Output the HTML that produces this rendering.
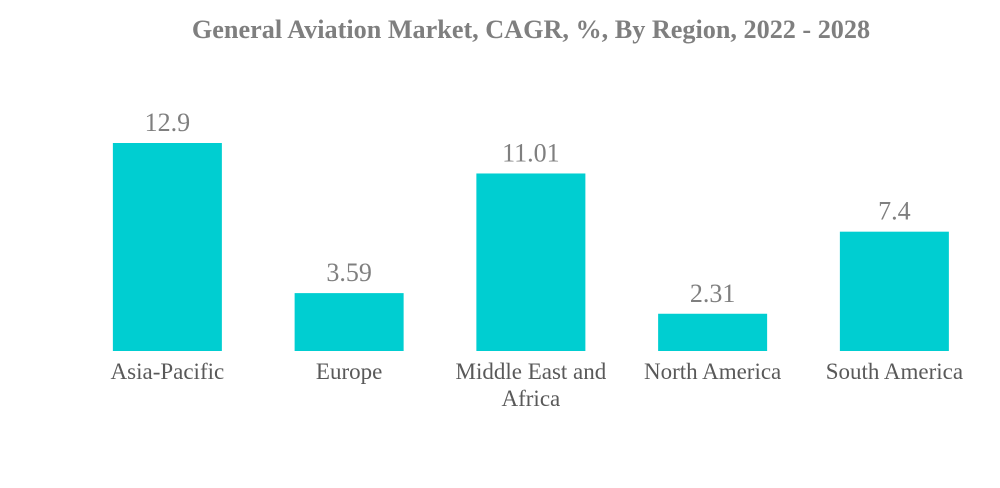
<!DOCTYPE html>
<html><head><meta charset="utf-8"><style>
body{margin:0;background:#fff;width:1000px;height:483px;overflow:hidden}
svg text{font-family:"Liberation Serif",serif}
</style></head><body>
<svg id="chart" width="1000" height="483" viewBox="0 0 1000 483">
<text x="531" y="38" text-anchor="middle" font-size="26.2" font-weight="bold" fill="#7f7f7f">General Aviation Market, CAGR, %, By Region, 2022 - 2028</text>
<g id="bars"></g>
</svg>
<script>
const categories = ["Asia-Pacific","Europe","Middle East and Africa","North America","South America"];
const labelLines = [["Asia-Pacific"],["Europe"],["Middle East and","Africa"],["North America"],["South America"]];
const values = [12.9, 3.59, 11.01, 2.31, 7.4];
const valueLabels = ["12.9","3.59","11.01","2.31","7.4"];

const baseY = 351, pxPerUnit = 208/12.9, bandStart = 76.5, bandW = 181.75, barW = 109;
const yScale = v => baseY - v * pxPerUnit;
const xCenter = i => bandStart + bandW * (i + 0.5);
const NS = "http://www.w3.org/2000/svg";
const g = document.getElementById("bars");
values.forEach((v, i) => {
  const cx = xCenter(i), top = yScale(v);
  const r = document.createElementNS(NS, "rect");
  
  
  r.setAttribute("x", cx - barW/2); r.setAttribute("y", top);
  r.setAttribute("width", barW); r.setAttribute("height", baseY - top);
  r.setAttribute("fill", "#00ced1");
  g.appendChild(r);
  const t = document.createElementNS(NS, "text");
  
  
  t.setAttribute("x", cx); t.setAttribute("y", top - 12);
  t.setAttribute("text-anchor", "middle"); t.setAttribute("font-size", "26"); t.setAttribute("fill", "#7f7f7f");
  t.textContent = valueLabels[i];
  g.appendChild(t);
  labelLines[i].forEach((ln, j) => {
    const c = document.createElementNS(NS, "text");
    
    
    c.setAttribute("x", cx); c.setAttribute("y", 379 + j * 27);
    c.setAttribute("text-anchor", "middle"); c.setAttribute("font-size", "23"); c.setAttribute("fill", "#595959");
    c.textContent = ln;
    g.appendChild(c);
  });
});
</script>
</body></html>
